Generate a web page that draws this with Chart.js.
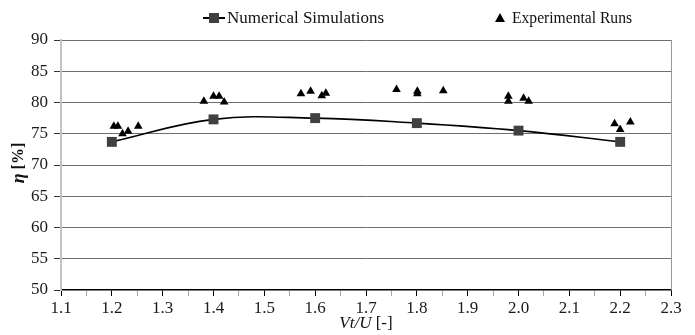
<!DOCTYPE html>
<html>
<head>
<meta charset="utf-8">
<script src="https://cdn.jsdelivr.net/npm/chart.js@4.4.1/dist/chart.umd.min.js"></script>
<style>
  html, body { margin: 0; padding: 0; background: #fff; }
  #wrap { width: 695px; height: 335px; }
</style>
</head>
<body>
<div id="wrap"><canvas id="effChart"></canvas></div>
<script>
// Numerical Simulations
const simX = [1.2, 1.4, 1.6, 1.8, 2.0, 2.2];
const simY = [73.7, 77.3, 77.5, 76.7, 75.5, 73.7];

// Experimental Runs
const expX = [1.204, 1.212, 1.221, 1.232, 1.252,
              1.381, 1.400, 1.411, 1.421,
              1.572, 1.591, 1.613, 1.621,
              1.760, 1.801, 1.801, 1.852,
              1.980, 1.980, 2.010, 2.020,
              2.189, 2.200, 2.220];
const expY = [76.2, 76.2, 75.0, 75.4, 76.2,
              80.2, 81.0, 81.0, 80.1,
              81.4, 81.8, 81.1, 81.5,
              82.1, 81.8, 81.4, 81.9,
              81.0, 80.2, 80.7, 80.2,
              76.6, 75.7, 76.9];

const legendLabels = ['Numerical Simulations', 'Experimental Runs'];
const xTitle = ['Vt/U', ' [-]'];
const yTitle = ['\u03b7', ' [%]'];

const FONT = "'Liberation Serif', 'Times New Roman', serif";

function toPoints(xs, ys) {
    return xs.map((x, i) => ({ x: x, y: ys[i] }));
}

function isMajor(v) {
    return Math.round(v * 100) % 10 === 0;
}

// Leyenda, títulos y borde derecho
const extras = {
    id: 'extras',
    afterDraw(chart) {
        const ctx = chart.ctx;
        const area = chart.chartArea;
        ctx.save();

        // borde derecho
        ctx.strokeStyle = '#999';
        ctx.lineWidth = 1;
        ctx.beginPath();
        ctx.moveTo(area.right + 0.5, area.top);
        ctx.lineTo(area.right + 0.5, area.bottom);
        ctx.stroke();

        // leyenda
        const ly = 18;
        ctx.strokeStyle = '#000';
        ctx.lineWidth = 2;
        ctx.beginPath();
        ctx.moveTo(203, ly);
        ctx.lineTo(225, ly);
        ctx.stroke();
        ctx.fillStyle = '#404040';
        ctx.fillRect(209, ly - 5, 10, 10);

        ctx.fillStyle = '#000';
        ctx.beginPath();
        ctx.moveTo(500, ly - 5);
        ctx.lineTo(505, ly + 4);
        ctx.lineTo(495, ly + 4);
        ctx.closePath();
        ctx.fill();

        ctx.font = '17px ' + FONT;
        ctx.fillStyle = '#111';
        ctx.textBaseline = 'middle';
        ctx.textAlign = 'left';
        ctx.fillText(legendLabels[0], 227, ly + 1, 157);
        ctx.fillText(legendLabels[1], 512, ly + 1, 120);

        // título eje x
        const cx = (area.left + area.right) / 2;
        ctx.font = 'italic 17px ' + FONT;
        const w1 = ctx.measureText(xTitle[0]).width;
        ctx.font = '17px ' + FONT;
        const w2 = ctx.measureText(xTitle[1]).width;
        let sx = cx - (w1 + w2) / 2;
        ctx.font = 'italic 17px ' + FONT;
        ctx.fillText(xTitle[0], sx, 324);
        ctx.font = '17px ' + FONT;
        ctx.fillText(xTitle[1], sx + w1, 324);

        // título eje y
        ctx.translate(19, (area.top + area.bottom) / 2 - 2);
        ctx.rotate(-Math.PI / 2);
        ctx.font = 'bold italic 18px ' + FONT;
        const h1 = ctx.measureText(yTitle[0]).width;
        ctx.font = 'bold 16px ' + FONT;
        const h2 = ctx.measureText(yTitle[1]).width;
        let sy = -(h1 + h2) / 2;
        ctx.font = 'bold italic 18px ' + FONT;
        ctx.fillText(yTitle[0], sy, 0);
        ctx.font = 'bold 16px ' + FONT;
        ctx.fillText(yTitle[1], sy + h1, 0);

        ctx.restore();
    }
};

const effCtx = document.getElementById('effChart').getContext('2d');

const effChart = new Chart(effCtx, {
    type: 'scatter',
    data: {
        datasets: [
            {
                label: legendLabels[0],
                data: toPoints(simX, simY),
                showLine: true,
                borderColor: '#000',
                borderWidth: 1.6,
                tension: 0.4,
                pointStyle: 'rect',
                pointRadius: 7,
                pointBackgroundColor: '#404040',
                pointBorderColor: '#404040',
                pointBorderWidth: 0,
                order: 1
            },
            {
                label: legendLabels[1],
                data: toPoints(expX, expY),
                showLine: false,
                pointStyle: 'triangle',
                pointRadius: 5,
                pointBackgroundColor: '#000',
                pointBorderColor: '#000',
                pointBorderWidth: 0,
                order: 0
            }
        ]
    },
    options: {
        responsive: true,
        maintainAspectRatio: false,
        animation: false,
        layout: { padding: { left: 0, right: 24, top: 40, bottom: 0 } },
        plugins: {
            legend: { display: false },
            tooltip: { enabled: false }
        },
        scales: {
            x: {
                type: 'linear',
                min: 1.1,
                max: 2.3,
                afterFit: s => { s.height = 45; },
                ticks: {
                    stepSize: 0.05,
                    autoSkip: false,
                    maxRotation: 0,
                    padding: 2,
                    color: '#1a1a1a',
                    font: { family: FONT, size: 17 },
                    callback: v => isMajor(v) ? v.toFixed(1) : ''
                },
                grid: {
                    drawOnChartArea: false,
                    tickLength: 6,
                    tickColor: c => (c.tick && isMajor(c.tick.value)) ? '#000' : '#aaa'
                },
                border: { color: '#000', width: 1.5 }
            },
            y: {
                min: 50,
                max: 90,
                afterFit: s => { s.width = 61; },
                ticks: {
                    stepSize: 5,
                    padding: 6,
                    color: '#1a1a1a',
                    font: { family: FONT, size: 17 }
                },
                grid: {
                    color: c => (c.tick && c.tick.value === 50) ? 'rgba(0,0,0,0)' : '#6e6e6e',
                    lineWidth: 1,
                    tickLength: 7,
                    tickColor: '#333'
                },
                border: { color: '#c4c4c4', width: 2 }
            }
        }
    },
    plugins: [extras]
});
</script>
</body>
</html>
